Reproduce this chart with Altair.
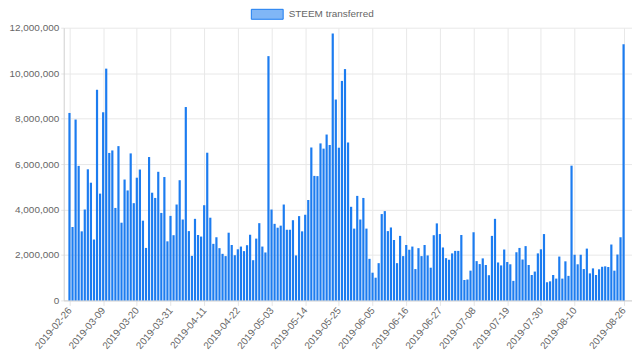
import altair as alt
import pandas as pd

series_name = "STEEM transferred"
start_date = "2019-02-26"

# daily STEEM transferred, millions, 2019-02-26 .. 2019-08-26
values_mar = [8.25, 3.23, 7.96, 5.92, 3.04, 4.0, 5.77, 5.18, 2.68, 9.27, 4.70, 8.28, 10.2, 6.49, 6.60,
              4.07, 6.79, 3.42, 5.32, 4.84, 6.47, 4.28, 5.40, 5.76, 3.51, 2.31, 6.31, 4.74, 4.51, 5.66]
values_apr = [3.85, 5.43, 2.60, 3.72, 2.87, 4.22, 5.29, 3.56, 8.51, 3.05, 1.96, 3.59, 2.88, 2.81, 4.19,
              6.50, 3.64, 2.49, 2.78, 2.30, 2.05, 1.95, 2.98, 2.44, 1.99, 2.25, 2.37, 2.17, 2.43, 2.89]
values_may = [1.77, 2.72, 3.40, 2.37, 2.11, 10.75, 4.0, 3.37, 3.20, 3.29, 4.22, 3.11, 3.11, 3.53, 1.98,
              3.71, 3.04, 3.77, 4.42, 6.73, 5.48, 5.47, 6.91, 6.68, 7.30, 6.84, 11.75, 8.84, 6.72, 9.66, 10.18]
values_jun = [6.95, 4.12, 3.16, 4.60, 3.56, 4.51, 3.16, 1.83, 1.22, 1.00, 1.64, 3.80, 3.93, 3.05, 3.21,
              2.66, 1.64, 2.84, 1.95, 2.44, 2.23, 2.37, 1.38, 2.30, 1.95, 2.44, 1.98, 1.44, 2.87, 3.39, 2.92]
values_jul = [2.33, 1.86, 1.79, 2.07, 2.18, 2.18, 2.88, 0.90, 0.92, 1.31, 3.0, 1.73, 1.60, 1.85, 1.56,
              1.11, 2.84, 3.59, 1.67, 1.54, 2.24, 1.69, 1.59, 0.86, 2.12, 2.31, 1.80, 2.39, 1.56, 1.12]
values_aug = [1.27, 2.07, 2.25, 2.92, 0.80, 0.84, 1.12, 0.96, 1.93, 0.96, 1.72, 1.08, 5.93, 2.01, 1.59,
              2.01, 1.38, 2.28, 1.19, 1.41, 1.12, 1.37, 1.48, 1.50, 1.47, 2.46, 1.31, 2.02, 2.78, 11.27]

tick_dates = ["2019-02-26", "2019-03-09", "2019-03-20", "2019-03-31", "2019-04-11", "2019-04-22",
              "2019-05-03", "2019-05-14", "2019-05-25", "2019-06-05", "2019-06-16", "2019-06-27",
              "2019-07-08", "2019-07-19", "2019-07-30", "2019-08-10", "2019-08-26"]
y_ticks = [0, 2000000, 4000000, 6000000, 8000000, 10000000, 12000000]

vals = values_mar + values_apr + values_may + values_jun + values_jul + values_aug
dates = pd.date_range(start_date, periods=len(vals), freq="D").strftime("%Y-%m-%d").tolist()
df = pd.DataFrame({"date": dates, "value": [v * 1e6 for v in vals], "series": series_name})

def dt(s, h=0):
    y, m, d = [int(p) for p in s.split("-")]
    return alt.DateTime(year=y, month=m, date=d, hours=h, utc=True)

FONT = "Liberation Sans"
BAR = "#1c7cf0"
LIGHT = "#80b6f6"

x_enc = alt.X("date:T",
              scale=alt.Scale(type="utc", domain=[dt("2019-02-25", 18), dt("2019-08-27", 3)]),
              axis=alt.Axis(title=None, values=[dt(s) for s in tick_dates], format="%Y-%m-%d",
                            labelAngle=-50, labelAlign="right", labelBaseline="middle",
                            labelFontSize=10, labelColor="#666", labelFont=FONT,
                            tickSize=5, labelPadding=3, tickColor="#e5e5e5",
                            gridColor="#e8e8e8", domainColor="#d0d0d0", labelOverlap=False,
                            labelFlush=False))
y_enc = alt.Y("value:Q",
              scale=alt.Scale(domain=[0, 12000000], nice=False),
              axis=alt.Axis(title=None, values=y_ticks, format=",d",
                            labelFontSize=10, labelColor="#666", labelFont=FONT,
                            tickSize=3, labelPadding=2, tickColor="#e5e5e5",
                            gridColor="#e8e8e8", domainColor="#d0d0d0"))

base = alt.Chart(df)
legend_layer = base.transform_filter("false").mark_bar(size=2.2, opacity=1).encode(
    x=x_enc, y=y_enc,
    color=alt.Color("series:N", scale=alt.Scale(domain=[series_name], range=[LIGHT]),
                    legend=alt.Legend(title=None, orient="none", legendX=199, legendY=-19,
                                      symbolType="M-3.2,-1H3.2V1H-3.2Z", symbolSize=100,
                                      symbolStrokeColor=BAR, symbolOpacity=1,
                                      symbolStrokeWidth=1, labelOffset=16, padding=0,
                                      labelFontSize=10, labelColor="#666", labelFont=FONT)),
)
bars = base.mark_bar(size=2.2, color=BAR, opacity=1, fillOpacity=1).encode(x=x_enc, y=y_enc)

chart = alt.layer(legend_layer, bars).properties(
    width=571, height=274, padding={"left": 0, "top": 0, "right": 0, "bottom": 0}
).configure_view(stroke=None).configure_bar(opacity=1)

chart.save("out.html", embed_options={"renderer": "svg", "actions": False})
